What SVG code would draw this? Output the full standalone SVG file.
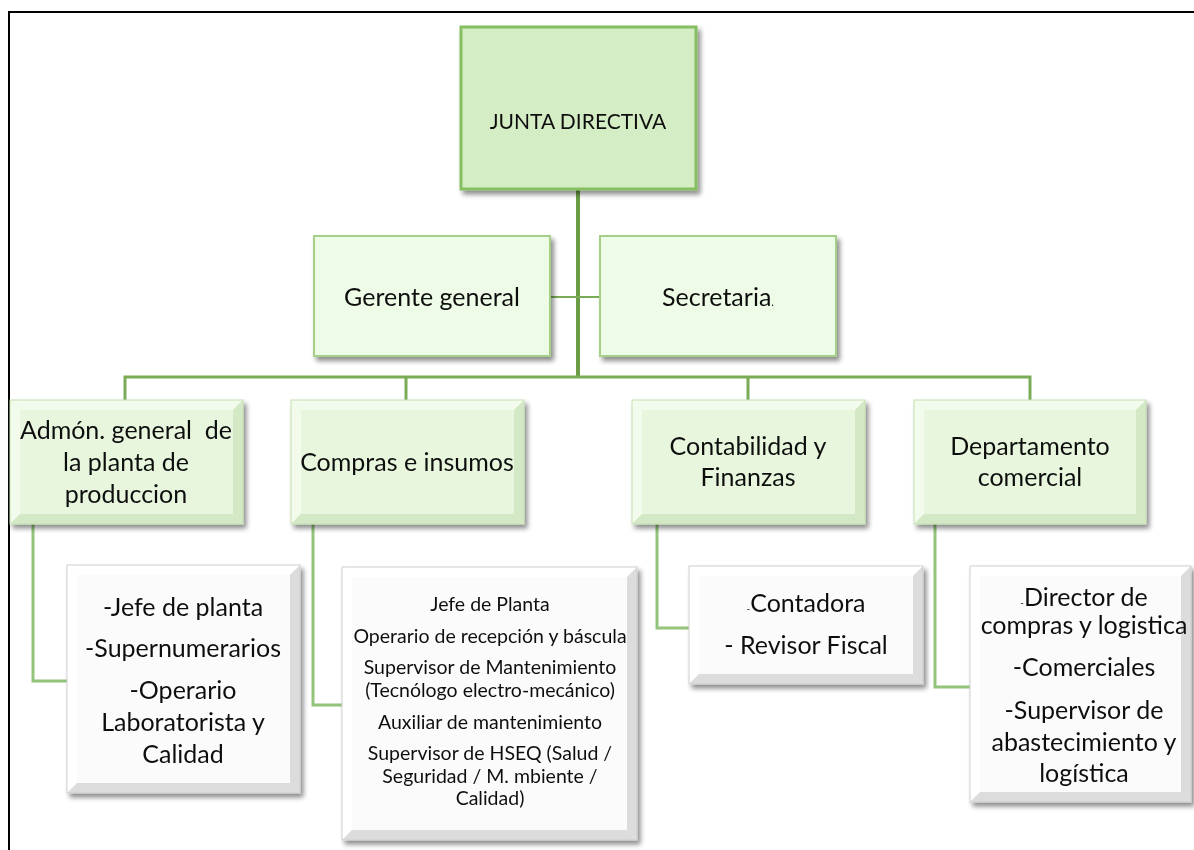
<svg xmlns="http://www.w3.org/2000/svg" width="1194" height="850" viewBox="0 0 1194 850">
<defs>
<filter id="sh" x="-10%" y="-10%" width="125%" height="130%">
<feGaussianBlur in="SourceAlpha" stdDeviation="2.5"/>
<feOffset dx="3" dy="4" result="b"/>
<feComponentTransfer><feFuncA type="linear" slope="0.45"/></feComponentTransfer>
<feMerge><feMergeNode/><feMergeNode in="SourceGraphic"/></feMerge>
</filter>
</defs>
<style>
text{font-family:Lato,"Open Sans","Liberation Sans",sans-serif;fill:#111;text-anchor:middle}
.t1{font-size:21px}
.t2{font-size:25px}
.t3{font-size:25px}
.t4{font-size:19.5px}
.top{fill:#d4edc4;stroke:#86bf62;stroke-width:3}
.lv1{fill:#eefbe6;stroke:#a6d08a;stroke-width:2}
.gface{fill:#e7f6dc}
.glt{fill:#f2fbec}
.gdk{fill:#d3e8c4}
.gout{fill:none;stroke:#c6e0b4;stroke-width:1}
.wface{fill:#fbfbfb}
.wlt{fill:#ffffff}
.wdk{fill:#dcdcdc}
.wout{fill:none;stroke:#cfcfcf;stroke-width:1}
.trunk{stroke:#6b9b44;stroke-width:4;fill:none}
.bus{stroke:#7aab56;stroke-width:3;fill:none}
.thin{stroke:#7aab56;stroke-width:2;fill:none}
.drop{stroke:#93c47a;stroke-width:3;fill:none}
.frame{stroke:#000;stroke-width:2;fill:none}
</style>

<path class="frame" d="M9,850 V12 H1194"/>

<g id="connectors">
<path class="trunk" d="M578,189 V378"/>
<path class="thin" d="M550,297 H600"/>
<path class="bus" d="M125,400 V377 H1030 V400"/>
<path class="bus" d="M406,377 V400 M748,377 V400"/>
<path class="drop" d="M33,524 V681 H67"/>
<path class="drop" d="M313,524 V705 H342"/>
<path class="drop" d="M657,524 V628 H689"/>
<path class="drop" d="M935,524 V687 H970"/>
</g>

<g id="junta" filter="url(#sh)">
<rect class="top" x="461" y="27" width="235" height="162"/>
<text class="t1" x="578" y="129">JUNTA DIRECTIVA</text>
</g>

<g id="gerente" filter="url(#sh)">
<rect class="lv1" x="314" y="236" width="236" height="120"/>
<text class="t2" x="432" y="306">Gerente general</text>
</g>

<g id="secretaria" filter="url(#sh)">
<rect class="lv1" x="600" y="236" width="236" height="120"/>
<text class="t2" x="718" y="306">Secretaria<tspan font-size="11">.</tspan></text>
</g>

<g id="admon" filter="url(#sh)">
<rect class="gface" x="10" y="400" width="233" height="124"/>
<polygon class="glt" points="10,400 243,400 233,410 20,410"/>
<polygon class="glt" points="10,400 20,410 20,514 10,524"/>
<polygon class="gdk" points="243,400 243,524 233,514 233,410"/>
<polygon class="gdk" points="10,524 20,514 233,514 243,524"/>
<rect class="gout" x="10" y="400" width="233" height="124"/>
<text class="t3" x="126" y="439" style="white-space:pre">Admón. general  de</text>
<text class="t3" x="126" y="471">la planta de</text>
<text class="t3" x="126" y="503">produccion</text>
</g>

<g id="compras" filter="url(#sh)">
<rect class="gface" x="291" y="400" width="233" height="124"/>
<polygon class="glt" points="291,400 524,400 514,410 301,410"/>
<polygon class="glt" points="291,400 301,410 301,514 291,524"/>
<polygon class="gdk" points="524,400 524,524 514,514 514,410"/>
<polygon class="gdk" points="291,524 301,514 514,514 524,524"/>
<rect class="gout" x="291" y="400" width="233" height="124"/>
<text class="t3" x="407" y="471">Compras e insumos</text>
</g>

<g id="contabilidad" filter="url(#sh)">
<rect class="gface" x="632" y="400" width="233" height="124"/>
<polygon class="glt" points="632,400 865,400 855,410 642,410"/>
<polygon class="glt" points="632,400 642,410 642,514 632,524"/>
<polygon class="gdk" points="865,400 865,524 855,514 855,410"/>
<polygon class="gdk" points="632,524 642,514 855,514 865,524"/>
<rect class="gout" x="632" y="400" width="233" height="124"/>
<text class="t3" x="748" y="455">Contabilidad y</text>
<text class="t3" x="748" y="486">Finanzas</text>
</g>

<g id="comercial" filter="url(#sh)">
<rect class="gface" x="914" y="400" width="232" height="124"/>
<polygon class="glt" points="914,400 1146,400 1136,410 924,410"/>
<polygon class="glt" points="914,400 924,410 924,514 914,524"/>
<polygon class="gdk" points="1146,400 1146,524 1136,514 1136,410"/>
<polygon class="gdk" points="914,524 924,514 1136,514 1146,524"/>
<rect class="gout" x="914" y="400" width="232" height="124"/>
<text class="t3" x="1030" y="455">Departamento</text>
<text class="t3" x="1030" y="486">comercial</text>
</g>

<g id="planta-staff" filter="url(#sh)">
<rect class="wface" x="67" y="565" width="233" height="228"/>
<polygon class="wlt" points="67,565 300,565 290,575 77,575"/>
<polygon class="wlt" points="67,565 77,575 77,783 67,793"/>
<polygon class="wdk" points="300,565 300,793 290,783 290,575"/>
<polygon class="wdk" points="67,793 77,783 290,783 300,793"/>
<rect class="wout" x="67" y="565" width="233" height="228"/>
<text class="t3" x="183" y="616">-Jefe de planta</text>
<text class="t3" x="183" y="657">-Supernumerarios</text>
<text class="t3" x="183" y="699">-Operario</text>
<text class="t3" x="183" y="731">Laboratorista y</text>
<text class="t3" x="183" y="763">Calidad</text>
</g>

<g id="compras-staff" filter="url(#sh)">
<rect class="wface" x="342" y="567" width="295" height="273"/>
<polygon class="wlt" points="342,567 637,567 627,577 352,577"/>
<polygon class="wlt" points="342,567 352,577 352,830 342,840"/>
<polygon class="wdk" points="637,567 637,840 627,830 627,577"/>
<polygon class="wdk" points="342,840 352,830 627,830 637,840"/>
<rect class="wout" x="342" y="567" width="295" height="273"/>
<text class="t4" x="490" y="611">Jefe de Planta</text>
<text class="t4" x="490" y="643">Operario de recepción y báscula</text>
<text class="t4" x="490" y="674">Supervisor de Mantenimiento</text>
<text class="t4" x="490" y="697">(Tecnólogo electro-mecánico)</text>
<text class="t4" x="490" y="729">Auxiliar de mantenimiento</text>
<text class="t4" x="490" y="760">Supervisor de HSEQ (Salud /</text>
<text class="t4" x="490" y="783">Seguridad / M. mbiente /</text>
<text class="t4" x="490" y="805">Calidad)</text>
</g>

<g id="contab-staff" filter="url(#sh)">
<rect class="wface" x="689" y="566" width="234" height="118"/>
<polygon class="wlt" points="689,566 923,566 913,576 699,576"/>
<polygon class="wlt" points="689,566 699,576 699,674 689,684"/>
<polygon class="wdk" points="923,566 923,684 913,674 913,576"/>
<polygon class="wdk" points="689,684 699,674 913,674 923,684"/>
<rect class="wout" x="689" y="566" width="234" height="118"/>
<text class="t3" x="806" y="612"><tspan font-size="10">-</tspan>Contadora</text>
<text class="t3" x="806" y="654">- Revisor Fiscal</text>
</g>

<g id="comercial-staff" filter="url(#sh)">
<rect class="wface" x="970" y="566" width="221" height="236"/>
<polygon class="wlt" points="970,566 1191,566 1181,576 980,576"/>
<polygon class="wlt" points="970,566 980,576 980,792 970,802"/>
<polygon class="wdk" points="1191,566 1191,802 1181,792 1181,576"/>
<polygon class="wdk" points="970,802 980,792 1181,792 1191,802"/>
<rect class="wout" x="970" y="566" width="221" height="236"/>
<text class="t3" x="1084" y="606"><tspan font-size="10">-</tspan>Director de</text>
<text class="t3" x="1084" y="634">compras y logistica</text>
<text class="t3" x="1084" y="676">-Comerciales</text>
<text class="t3" x="1084" y="719">-Supervisor de</text>
<text class="t3" x="1084" y="751">abastecimiento y</text>
<text class="t3" x="1084" y="782">logística</text>
</g>
</svg>
